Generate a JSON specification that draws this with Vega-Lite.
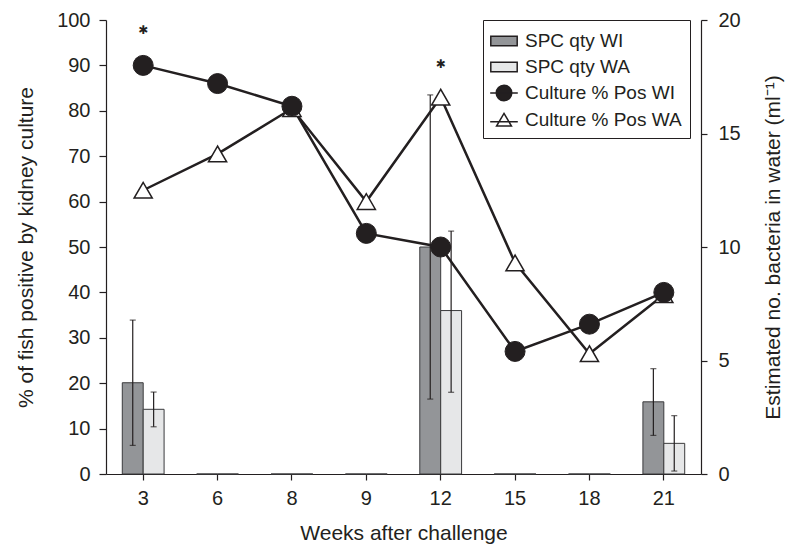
{
  "$schema": "https://vega.github.io/schema/vega-lite/v6.json",
  "width": 595,
  "height": 454,
  "autosize": {"type": "none"},
  "padding": {"left": 106, "top": 20, "right": 99, "bottom": 72},
  "config": {
    "font": "Liberation Sans",
    "view": {"stroke": null},
    "axis": {
      "grid": false,
      "domainColor": "#231f20",
      "tickColor": "#231f20",
      "labelColor": "#231f20",
      "titleColor": "#231f20",
      "labelFontSize": 20,
      "titleFontSize": 21,
      "titleFontWeight": "normal",
      "tickSize": 7,
      "domainWidth": 1.2,
      "tickWidth": 1.2
    }
  },
  "datasets": {
    "bars": [
      {"week": "3", "series": "SPC qty WI", "qty": 4.02, "lo": 1.26, "hi": 6.78},
      {"week": "3", "series": "SPC qty WA", "qty": 2.85, "lo": 2.08, "hi": 3.61},
      {"week": "6", "series": "SPC qty WI", "qty": 0},
      {"week": "6", "series": "SPC qty WA", "qty": 0},
      {"week": "8", "series": "SPC qty WI", "qty": 0},
      {"week": "8", "series": "SPC qty WA", "qty": 0},
      {"week": "9", "series": "SPC qty WI", "qty": 0},
      {"week": "9", "series": "SPC qty WA", "qty": 0},
      {"week": "12", "series": "SPC qty WI", "qty": 10.0, "lo": 3.3, "hi": 16.7},
      {"week": "12", "series": "SPC qty WA", "qty": 7.2, "lo": 3.6, "hi": 10.7},
      {"week": "15", "series": "SPC qty WI", "qty": 0},
      {"week": "15", "series": "SPC qty WA", "qty": 0},
      {"week": "18", "series": "SPC qty WI", "qty": 0},
      {"week": "18", "series": "SPC qty WA", "qty": 0},
      {"week": "21", "series": "SPC qty WI", "qty": 3.18, "lo": 1.7, "hi": 4.64},
      {"week": "21", "series": "SPC qty WA", "qty": 1.35, "lo": 0.13, "hi": 2.57}
    ],
    "lines": [
      {"week": "3", "series": "Culture % Pos WI", "pct": 90},
      {"week": "6", "series": "Culture % Pos WI", "pct": 86},
      {"week": "8", "series": "Culture % Pos WI", "pct": 81},
      {"week": "9", "series": "Culture % Pos WI", "pct": 53},
      {"week": "12", "series": "Culture % Pos WI", "pct": 50},
      {"week": "15", "series": "Culture % Pos WI", "pct": 27},
      {"week": "18", "series": "Culture % Pos WI", "pct": 33},
      {"week": "21", "series": "Culture % Pos WI", "pct": 40},
      {"week": "3", "series": "Culture % Pos WA", "pct": 62.5},
      {"week": "6", "series": "Culture % Pos WA", "pct": 70.5},
      {"week": "8", "series": "Culture % Pos WA", "pct": 80.5},
      {"week": "9", "series": "Culture % Pos WA", "pct": 60},
      {"week": "12", "series": "Culture % Pos WA", "pct": 83},
      {"week": "15", "series": "Culture % Pos WA", "pct": 46.5},
      {"week": "18", "series": "Culture % Pos WA", "pct": 26.5},
      {"week": "21", "series": "Culture % Pos WA", "pct": 39.5}
    ],
    "stars": [
      {"week": "3", "pct": 97.8, "label": "✱"},
      {"week": "12", "pct": 90.3, "label": "✱"}
    ]
  },
  "encoding": {
    "x": {
      "field": "week",
      "type": "ordinal",
      "scale": {"domain": ["3", "6", "8", "9", "12", "15", "18", "21"], "paddingInner": 0, "paddingOuter": 0},
      "axis": {"title": "Weeks after challenge", "labelAngle": 0, "labelPadding": 8, "titlePadding": 14, "tickSize": 6}
    }
  },
  "layer": [
    {
      "data": {"name": "bars"},
      "encoding": {
        "xOffset": {"field": "series", "type": "nominal", "scale": {"domain": ["SPC qty WI", "SPC qty WA"], "paddingInner": 0, "paddingOuter": 0.78}},
        "y": {
          "field": "qty",
          "type": "quantitative",
          "scale": {"domain": [0, 20], "nice": false},
          "axis": {"orient": "right", "title": "Estimated no. bacteria in water (ml⁻¹)", "titleAngle": 270, "values": [0, 5, 10, 15, 20], "labelPadding": 11, "titlePadding": 43, "tickSize": 6}
        }
      },
      "layer": [
        {
          "mark": {"type": "bar", "stroke": "#3a3a3c", "strokeWidth": 1},
          "encoding": {
            "fill": {
              "field": "series",
              "type": "nominal",
              "scale": {"domain": ["SPC qty WI", "SPC qty WA", "Culture % Pos WI", "Culture % Pos WA"], "range": ["#939598", "#e6e7e8", "#231f20", "#ffffff"]},
              "legend": {
                "title": null,
                "orient": "none",
                "legendX": 377,
                "legendY": 0,
                "strokeColor": "#231f20",
                "fillColor": "#ffffff",
                "padding": 8,
                "symbolSize": 576,
                "symbolStrokeColor": "#231f20",
                "symbolStrokeWidth": 1.5,
                "symbolOpacity": 1,
                "labelFontSize": 19,
                "labelColor": "#231f20",
                "labelOffset": 8,
                "rowPadding": 3
              }
            }
          }
        },
        {
          "mark": {"type": "rule", "color": "#231f20", "strokeWidth": 1.2},
          "encoding": {"y": {"field": "lo", "type": "quantitative"}, "y2": {"field": "hi"}}
        },
        {
          "mark": {"type": "tick", "color": "#231f20", "thickness": 1.2, "size": 6},
          "encoding": {"y": {"field": "lo", "type": "quantitative"}}
        },
        {
          "mark": {"type": "tick", "color": "#231f20", "thickness": 1.2, "size": 6},
          "encoding": {"y": {"field": "hi", "type": "quantitative"}}
        }
      ]
    },
    {
      "data": {"name": "lines"},
      "encoding": {
        "y": {
          "field": "pct",
          "type": "quantitative",
          "scale": {"domain": [0, 100], "nice": false},
          "axis": {"orient": "left", "title": "% of fish positive by kidney culture", "values": [0, 10, 20, 30, 40, 50, 60, 70, 80, 90, 100], "labelPadding": 9, "titlePadding": 20}
        }
      },
      "layer": [
        {
          "mark": {"type": "line", "color": "#231f20", "strokeWidth": 2.5},
          "encoding": {"detail": {"field": "series", "type": "nominal"}}
        },
        {
          "transform": [{"filter": "datum.series === 'Culture % Pos WA'"}],
          "mark": {"type": "point", "shape": "triangle-up", "size": 330, "filled": true, "fill": "#ffffff", "stroke": "#231f20", "strokeWidth": 1.5, "opacity": 1}
        },
        {
          "transform": [{"filter": "datum.series === 'Culture % Pos WI'"}],
          "mark": {"type": "point", "shape": "circle", "size": 400, "filled": true, "fill": "#231f20", "stroke": "#231f20", "strokeWidth": 1, "opacity": 1}
        },
        {
          "transform": [{"filter": "false"}],
          "mark": {"type": "point", "filled": true, "opacity": 1},
          "encoding": {
            "shape": {
              "field": "series",
              "type": "nominal",
              "scale": {
                "domain": ["SPC qty WI", "SPC qty WA", "Culture % Pos WI", "Culture % Pos WA"],
                "range": [
                  "M-1.1,-0.4H1.1V0.4H-1.1Z",
                  "M-1.1,-0.4H1.1V0.4H-1.1Z",
                  "M-1.15,0H1.15M-0.65,0A0.65,0.65 0 1 0 0.65,0A0.65,0.65 0 1 0 -0.65,0Z",
                  "M-1.15,0.15H1.15M0,-0.55L0.62,0.5L-0.62,0.5Z"
                ]
              },
              "legend": {"title": null}
            },
            "fill": {"field": "series", "type": "nominal"}
          }
        },
        {
          "data": {"name": "stars"},
          "mark": {"type": "text", "font": "DejaVu Sans", "fontSize": 12, "color": "#231f20", "baseline": "middle"},
          "encoding": {"text": {"field": "label"}}
        }
      ]
    }
  ],
  "resolve": {"scale": {"y": "independent"}}
}
